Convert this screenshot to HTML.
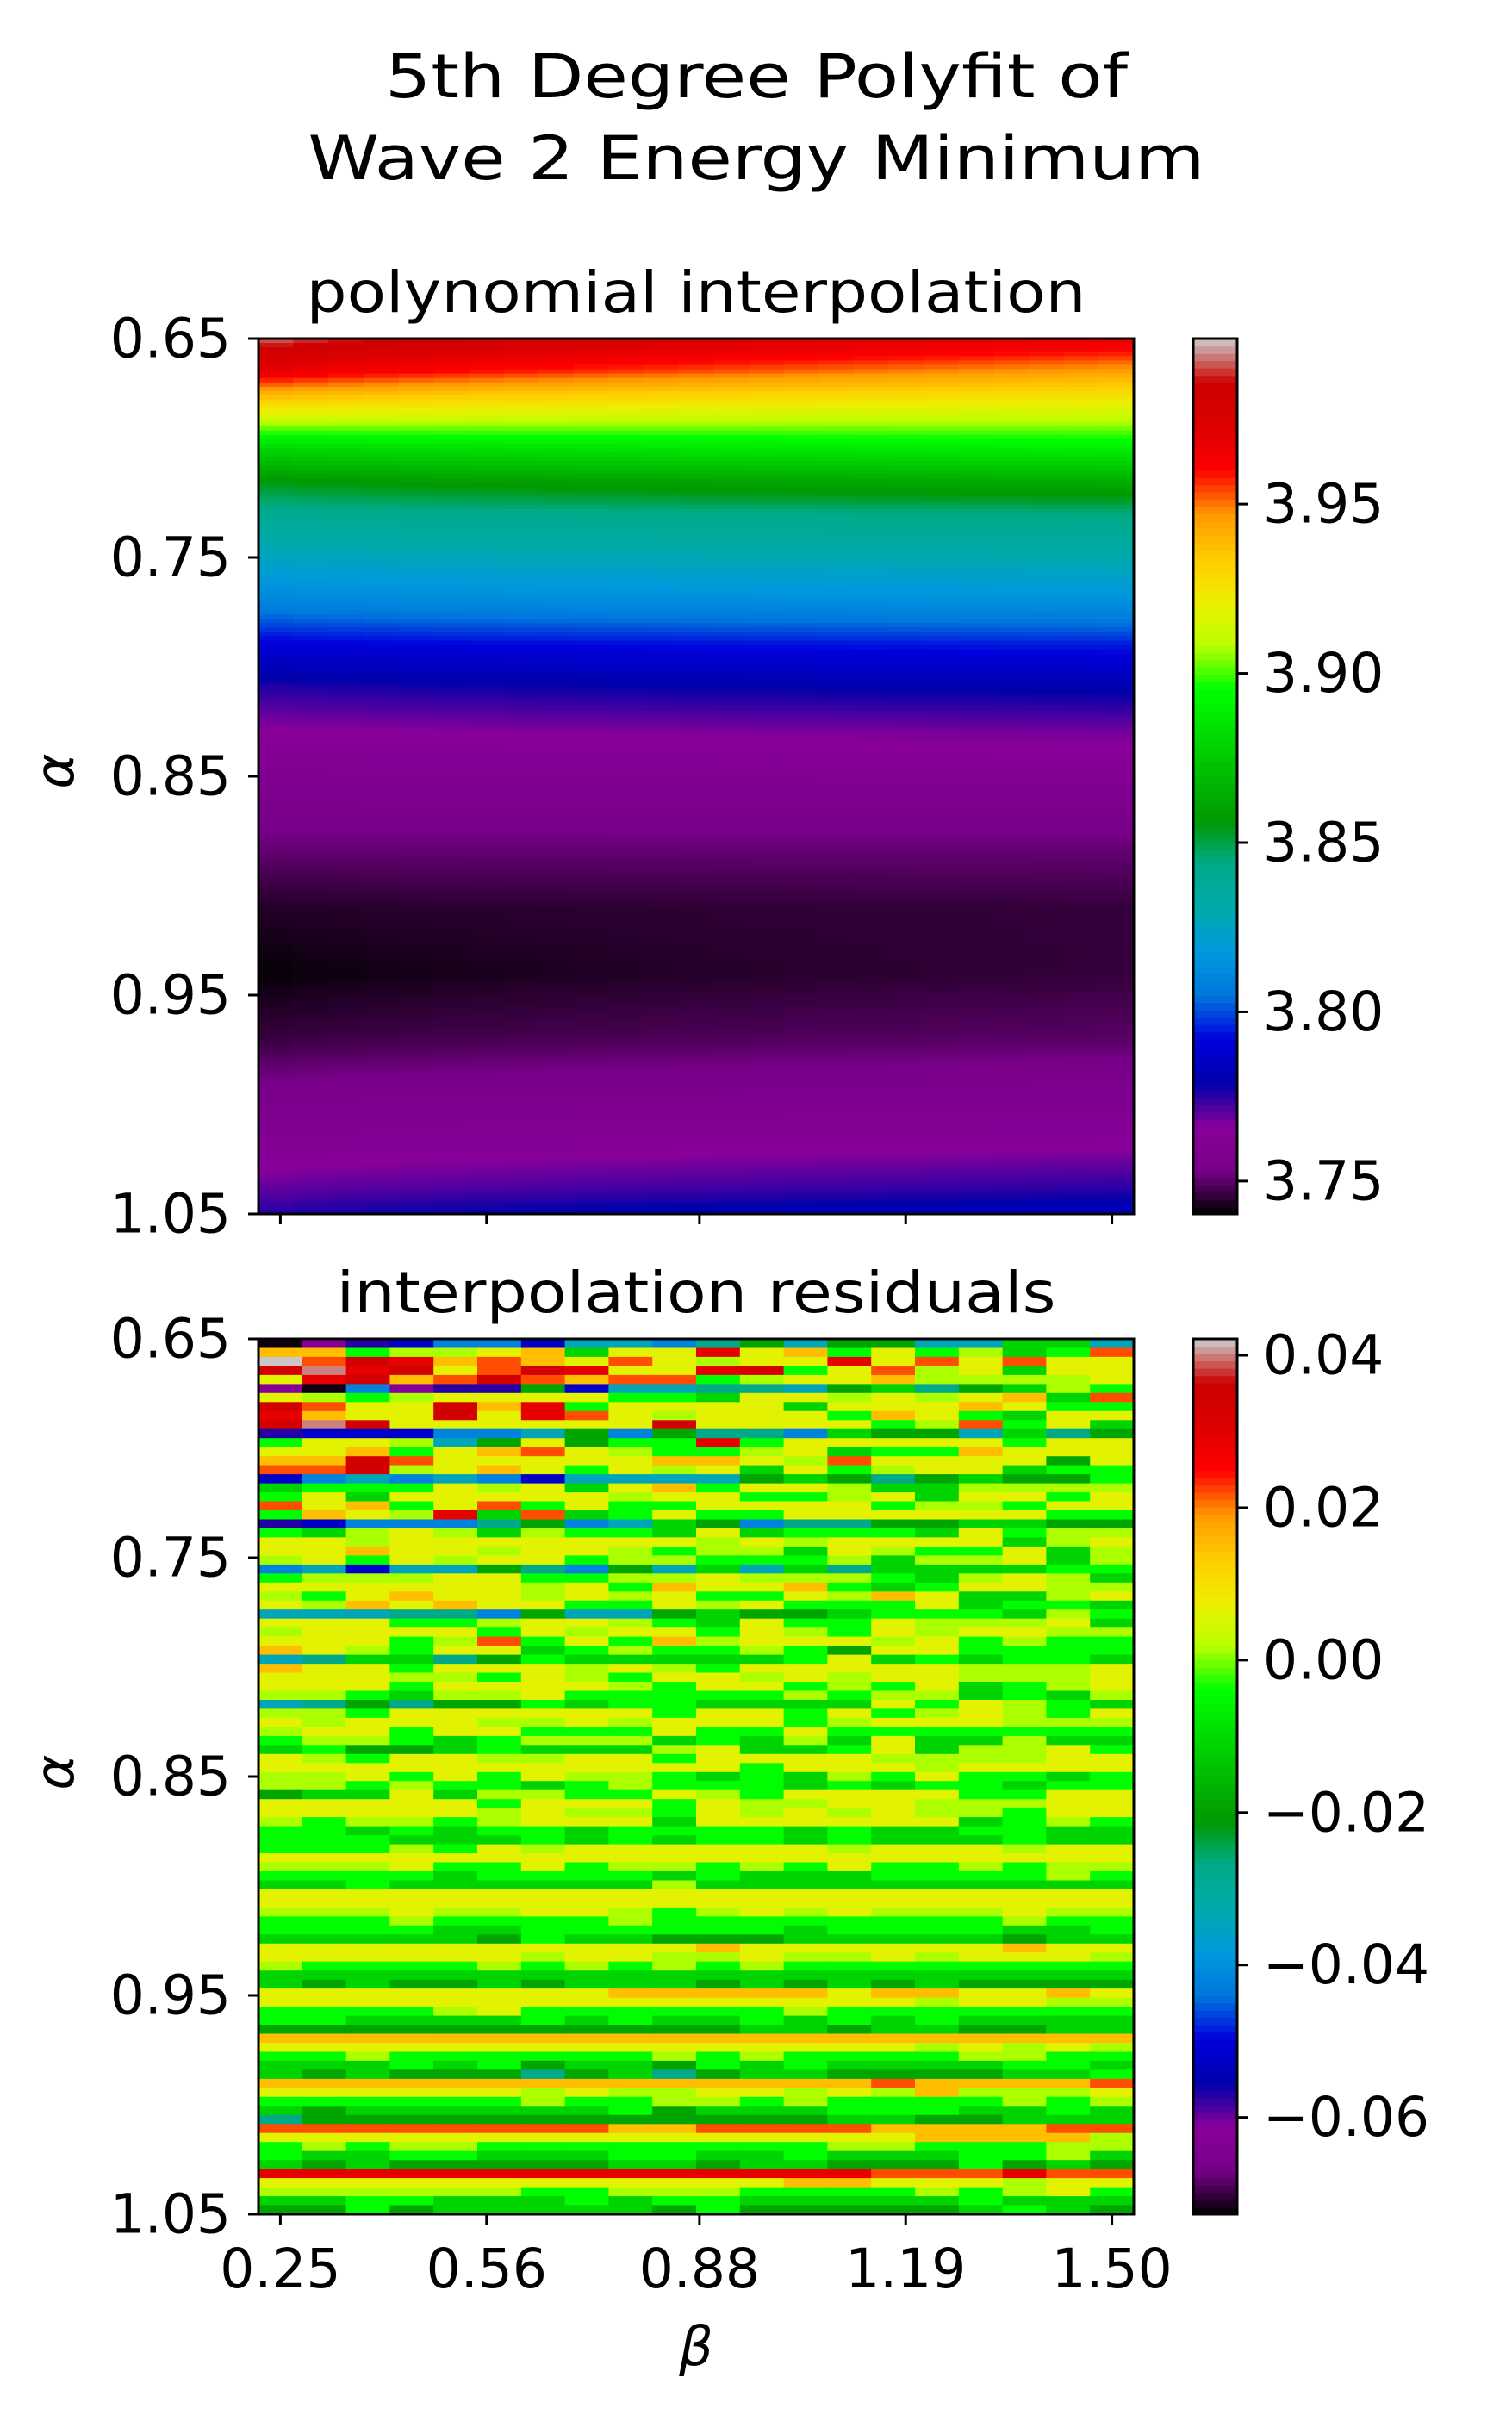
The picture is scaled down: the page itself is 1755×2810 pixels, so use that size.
<!DOCTYPE html>
<html><head><meta charset="utf-8">
<style>
html,body{margin:0;padding:0;background:#fff;}
svg text{font-family:"DejaVu Sans","Liberation Sans",sans-serif;fill:#000;}
</style></head>
<body>
<svg id="fig" xmlns="http://www.w3.org/2000/svg" width="1755" height="2805" viewBox="0 0 1755 2805">
<rect width="1755" height="2805" fill="#fff"/>
<text x="878" y="113" font-size="70" text-anchor="middle" textLength="862" lengthAdjust="spacingAndGlyphs">5th Degree Polyfit of</text>
<text x="878" y="208" font-size="70" text-anchor="middle" textLength="1041" lengthAdjust="spacingAndGlyphs">Wave 2 Energy Minimum</text>
<text x="808" y="362" font-size="66" text-anchor="middle" textLength="905" lengthAdjust="spacingAndGlyphs">polynomial interpolation</text>
<text x="808" y="1523" font-size="66" text-anchor="middle" textLength="835" lengthAdjust="spacingAndGlyphs">interpolation residuals</text>
<g id="topImg"></g>
<g id="botImg"></g>
<g id="cb1"></g>
<g id="cb2"></g>
<g id="axes"></g>
<text x="68" y="895" font-size="62" font-style="italic" text-anchor="middle" dominant-baseline="middle" transform="rotate(-90 68 895)">α</text>
<text x="68" y="2057" font-size="62" font-style="italic" text-anchor="middle" dominant-baseline="middle" transform="rotate(-90 68 2057)">α</text>
<text x="808" y="2745" font-size="62" font-style="italic" text-anchor="middle">β</text>
</svg>
<script>
// ---- data ----
const betaTicks = [0.25, 0.56, 0.88, 1.19, 1.50];
const betaTickLabels = ["0.25","0.56","0.88","1.19","1.50"];
const alphaTicks = [0.65, 0.75, 0.85, 0.95, 1.05];
const alphaTickLabels = ["0.65","0.75","0.85","0.95","1.05"];
const energyTicks = [3.75, 3.80, 3.85, 3.90, 3.95];
const energyTickLabels = ["3.75","3.80","3.85","3.90","3.95"];
const residTicks = [0.04, 0.02, 0.00, -0.02, -0.04, -0.06];
const residTickLabels = ["0.04","0.02","0.00","\u22120.02","\u22120.04","\u22120.06"];
const profileAlpha = [0.65,0.665,0.68,0.70,0.715,0.73,0.75,0.77,0.79,0.81,0.83,0.85,0.88,0.91,0.94,0.97,1.00,1.02,1.04,1.05];
const energyLeft  = [3.995,3.97,3.93,3.88,3.855,3.84,3.825,3.81,3.79,3.775,3.765,3.76,3.752,3.744,3.7405,3.746,3.757,3.762,3.77,3.775];
const energyRight = [3.968,3.945,3.92,3.89,3.865,3.845,3.83,3.815,3.795,3.78,3.768,3.762,3.752,3.746,3.746,3.75,3.76,3.766,3.776,3.785];
const residCodeValues = {k:-0.072,p:-0.062,v:-0.057,b:-0.052,l:-0.042,c:-0.034,e:-0.027,g:-0.019,G:-0.011,L:-0.004,h:0.0015,y:0.0065,o:0.015,O:0.022,r:0.029,R:0.034,w:0.040,W:0.042};
const residRows = [
"kpvbllbcclegcggccGGc","ooLhhyoGyyryoLyLhGLO","WORroOoyOyhyyryOyOyy","RwrRyORryyrRLyOhyGyy","yrRoOROoOOLhyyohhhhy",
"pklpvvgbcceecgGegGhL","yhLhyyyyLLGyyhyhyoGO","ROyyRorLyyyyGyyyoyLL","royyRyrOyhyyyLoyLGyy","RwRyyyyyyRyyyyLhOLyG",
"vbbbllcglgeelGggcGeg","LyyhcgygLLrLyyyyyLyy","yyoLyoOyhLLhyGLLoyyy","ooROyyyyyooyhOyyyygy","OORhyoyLyhyGyLhyyGLL",
"blclclbccccgGgegGggL","GLLLyhyGyoLyyhGGhhhh","LyGyyyyyhyyLLhyGyyLy","OyoLyOLyLLyyyyLhhLyy","LoyhrGOGLyLLyyyyyyLL",
"vbllleglcGgleeggGGgg","LGhyhGhLLGyGLLLGyLhh","yyhyyyyyyyhyhyyyyGhy","yyoyyhyyhLhhGyhLLyGh","hyLyhyyLhhLLLhGhhyGh",
"lcbccgelgcGcGeGGGGLL","LhhhyyLLhhyhhhLGhyhG","yyyyyyhyLoyyoLGLyyhh","hLyoyyhyhyLLyhoyGGhy","yhoyoyyLLyhyLLLyGLLG",
"ccceelgccgGggGLLLGhL","yyyLLhyyhLGyLLyhhhyG","hyyyyLyhyyLyhLyhyyhh",
"yyyLhOLyLohyyyhyLhLL","oyhLyyGLhLLhLgyyLLLL","ceGGegLGGGGGLyGLGLLG","oyyLyyyhyhLyyyyyhhhy","yyyhhLyhLyyhyhyyhhhy",
"yyyLyyyyhLyyLhLyGLhy","hhLGhhyLLLLLhLhhGLGh","cegeggLGLLGGGGyLyhLG","hhLyyyyyyLyyLyLhyhLy","yhyyyhhyhyyyLhyyyhhh",
"hyyLyyLLLyLLyLLLLLLL","LhhLGLhhhGLGhGyGGhGG","GLggGLGGGhyGGLyGhhyL","yhLyyhhyyLyyyyhhhhyy","yyyyyyyyyyyLyyyhyyyy",
"hhyLyLyhhLGLGhLyLLGL","hhLhLLGLhLLLGLGLLGLL","gGGyGhhLLyhLyyyyLLyy","yyyyyLyyyLyhhyyhhhyy","yyyyyhyhhLyhyhyhhLyy",
"hLhhLhyyyGyyyyyyGLhL","LLGLGLLGLLLLGLGGLLGG","LLLGGGLGLGLLGLGGGLGG","LLLhLyhyyyyyyhyyyhyy","yyyyyyyyyyyyyyyyyyyy",
"hhhyLLyLhhLhLyLLhLhh","LLLLGLLLLGLGGGLLLLhL","GGLGGGGGGhGGGGGGGGGG","yyyyyyyyyyyyyyyyyyyy","yyyyyyyyyyyyyyyyyyyy",
"hhhyhhyyhLhyhyhhhyhh","LLLhLLLLhLLLLLLLLhLL","LLLLGGLLLLLLGLLLLGGL","GGGGGgLGGgggGGGGGgGG",
"yyyyyyyyyyoyyyyyyoyy","yyyyyyhyyhhyhhyhyyyh","hLLLLhLhLhLhLLLLLLLL","GGGGGGGGGGGGGGGGGGGG","GgGggGgGGGgGgGgGgggg",
"yyyyyyyyoooooyooyyoy","yyyyyyyyyyyyyyyhyyhh","LLLLhyLLLLLLhLLLLLLL","LLGGGGLGLGGLGLGLGGGG","gggggggggggGGgGGggGG",
"oooooooooooooooooooo","yyyyyyyyyyyyyyyhyhyh","LLhLLLLLLhLhLLLLhhLL","GGGLGLgGGgLGLGGGGLLG","GgGgggegGegGGggggGGL",
"ooooooooooooooOooooO","yyyyyyhyhhyyhyhohhhy","LLLLLLhLLhhLhLLLLhLh","GgGGGGGGLgGGGLLLGGLG","eggggggggggggGGggGGGg",
"OOOOOOOOooOOOOooooOO","yyyyyyyyyyyyyyyoooohh","LhLhhLLLLLLLLhhLLLhh","LGGLLGGGLLGGLGGGLLhG","GgGgggggGGgGGgggLgGgG",
"rrrrrrrrrrrrrrOOOrOO","yyyyyyyyyyyyooyyyhyy","hhhhhhLLhhhLLLLhLhyL","GGLLGGGLGLLGGGGGLGGG","ggLgGGGGGgLgggggGLGgg"
];
// ---- geometry ----
const AX = {x0:300, x1:1316, top1:393, bot1:1409, top2:1554, bot2:2570};
const CB = {x0:1385, x1:1436};
const betaMin = 0.25 - 1.25/19/2, betaMax = 1.50 + 1.25/19/2;
const eMin = 3.7403, eMax = 3.9989, rMin = -0.0727, rMax = 0.04215;
const xScale = b => AX.x0 + (b - betaMin)/(betaMax - betaMin)*(AX.x1 - AX.x0);
const yScale1 = a => AX.top1 + (a - 0.65)/0.4*(AX.bot1 - AX.top1);
const yScale2 = a => AX.top2 + (a - 0.65)/0.4*(AX.bot2 - AX.top2);
const cbScale1 = v => AX.bot1 - (v - eMin)/(eMax - eMin)*(AX.bot1 - AX.top1);
const cbScale2 = v => AX.bot2 - (v - rMin)/(rMax - rMin)*(AX.bot2 - AX.top2);

const R=[0,.4667,.5333,0,0,0,0,0,0,0,0,0,0,.7333,.9333,1,1,1,.8667,.8,.8];
const G=[0,0,0,0,0,.4667,.6,.6667,.6667,.6,.7333,.8667,1,1,.9333,.8,.6,0,0,0,.8];
const B=[0,.5333,.6,.6667,.8667,.8667,.8667,.6667,.5333,0,0,0,0,0,0,0,0,0,0,0,.8];
function cmap(t){t=Math.max(0,Math.min(1,t));const f=t*20,i=Math.min(19,Math.floor(f)),u=f-i;
 const c=a=>Math.round(255*(a[i]+(a[i+1]-a[i])*u));return `rgb(${c(R)},${c(G)},${c(B)})`;}
function interp(xs,ys,x){for(let i=0;i<xs.length-1;i++){if(x<=xs[i+1]){const u=(x-xs[i])/(xs[i+1]-xs[i]);return ys[i]+(ys[i+1]-ys[i])*u;}}return ys[ys.length-1];}
const NS='http://www.w3.org/2000/svg';
function mk(tag,attrs,parent){const e=document.createElementNS(NS,tag);for(const k in attrs)e.setAttribute(k,attrs[k]);parent.appendChild(e);return e;}

// top smooth image
const topG=document.getElementById('topImg');
const nR=200,nC=25;
for(let i=0;i<nR;i++){
 const a0=0.65+0.4*i/nR,a1=0.65+0.4*(i+1)/nR,am=(a0+a1)/2;
 const vl=interp(profileAlpha,energyLeft,am),vr=interp(profileAlpha,energyRight,am);
 for(let j=0;j<nC;j++){
  const b0=betaMin+(betaMax-betaMin)*j/nC,b1=betaMin+(betaMax-betaMin)*(j+1)/nC,bm=(b0+b1)/2;
  const w=(bm-betaMin)/(betaMax-betaMin);
  const v=vl+(vr-vl)*Math.pow(w,0.6);
  const r=mk('rect',{x:xScale(b0).toFixed(1),y:yScale1(a0).toFixed(1),width:(xScale(b1)-xScale(b0)+0.8).toFixed(1),height:(yScale1(a1)-yScale1(a0)+0.8).toFixed(1),fill:cmap((v-eMin)/(eMax-eMin))},topG);
  
  
 }
}
// residual image
const botG=document.getElementById('botImg');
const nRows=residRows.length, dB=(betaMax-betaMin)/20;
residRows.forEach((row,i)=>{
 const a0=0.65+0.4*i/nRows,a1=0.65+0.4*(i+1)/nRows;
 for(let j=0;j<20;j++){
  const ch=row[j]||row[row.length-1];
  const v=residCodeValues[ch];
  const b0=betaMin+dB*j;
  const r=mk('rect',{x:xScale(b0).toFixed(1),y:yScale2(a0).toFixed(1),width:(xScale(b0+dB)-xScale(b0)+0.6).toFixed(1),height:(yScale2(a1)-yScale2(a0)+0.6).toFixed(1),fill:cmap((v-rMin)/(rMax-rMin))},botG);
  
  
 }
});
// colorbars
function colorbar(g,top,bot){const n=120;for(let i=0;i<n;i++){const y0=bot-(bot-top)*(i+1)/n;
 const r=mk('rect',{x:CB.x0,y:y0.toFixed(1),width:CB.x1-CB.x0,height:((bot-top)/n+0.8).toFixed(1),fill:cmap((i+0.5)/n)},g);
 
 }
 const f=mk('rect',{x:CB.x0,y:top,width:CB.x1-CB.x0,height:bot-top,fill:'none',stroke:'#000','stroke-width':3},g);
 
 }
const cb1=document.getElementById('cb1'),cb2=document.getElementById('cb2');
colorbar(cb1,AX.top1,AX.bot1);colorbar(cb2,AX.top2,AX.bot2);
energyTicks.forEach((v,i)=>{const y=cbScale1(v);
 const l=mk('line',{x1:CB.x1,x2:CB.x1+12,y1:y,y2:y,stroke:'#000','stroke-width':3},cb1);
 
 
 const t=mk('text',{x:1466,y:y,'font-size':63,'dominant-baseline':'central'},cb1);t.textContent=energyTickLabels[i];
 
 });
residTicks.forEach((v,i)=>{const y=cbScale2(v);
 const l=mk('line',{x1:CB.x1,x2:CB.x1+12,y1:y,y2:y,stroke:'#000','stroke-width':3},cb2);
 
 
 const t=mk('text',{x:1466,y:y,'font-size':63,'dominant-baseline':'central'},cb2);t.textContent=residTickLabels[i];
 
 });
// axes frames and ticks
const ax=document.getElementById('axes');
[[AX.top1,AX.bot1,yScale1,false],[AX.top2,AX.bot2,yScale2,true]].forEach(([top,bot,ys,lab])=>{
 const f=mk('rect',{x:AX.x0,y:top,width:AX.x1-AX.x0,height:bot-top,fill:'none',stroke:'#000','stroke-width':3},ax);
 
 
 alphaTicks.forEach((a,i)=>{const y=ys(a);
  const l=mk('line',{x1:AX.x0-12,x2:AX.x0,y1:y,y2:y,stroke:'#000','stroke-width':3},ax);
  
  
  const t=mk('text',{x:AX.x0-32,y:y,'font-size':63,'text-anchor':'end','dominant-baseline':'central'},ax);t.textContent=alphaTickLabels[i];
  
  });
 betaTicks.forEach((b,i)=>{const x=xScale(b);
  const l=mk('line',{x1:x,x2:x,y1:bot,y2:bot+12,stroke:'#000','stroke-width':3},ax);
  
  
  if(lab){const t=mk('text',{x:x,y:2655,'font-size':63,'text-anchor':'middle'},ax);t.textContent=betaTickLabels[i];
   
   }});
});
</script>
</body></html>
